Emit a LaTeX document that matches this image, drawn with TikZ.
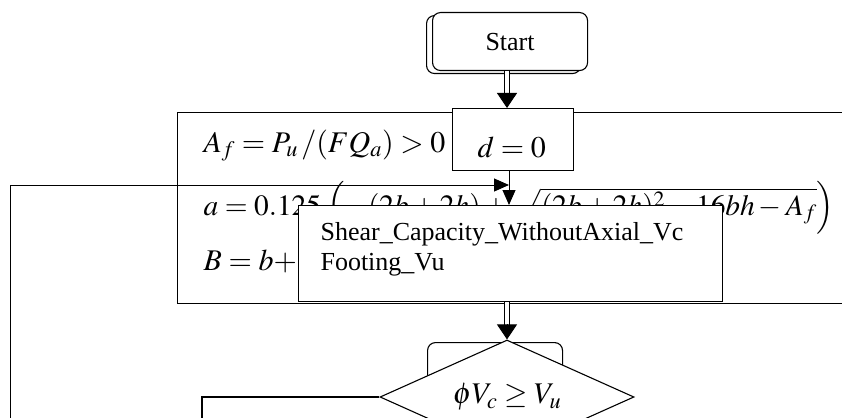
\documentclass[tikz,border=0pt]{standalone}
\usepackage{mathptmx}
\usepackage{fontspec}
\setmainfont{Liberation Serif}
\usetikzlibrary{arrows.meta,shapes.geometric,calc}
\begin{document}
\begin{tikzpicture}[x=1pt,y=-1pt, line width=1.1pt,
  box/.style={draw, fill=white, inner sep=0pt, anchor=north west},
  txt/.style={inner sep=0pt, anchor=base west, font=\fontsize{26}{30}\selectfont},
  mtxt/.style={inner sep=0pt, anchor=base west, font=\fontsize{30}{34}\selectfont},
  dbl/.style={double, double distance=3.5pt, line width=0.9pt},
  bigtip/.style={-{Triangle[width=20pt,length=15pt]}, line width=0.9pt},
  smalltip/.style={-{Triangle[width=13pt,length=15pt]}, line width=1pt}]
\useasboundingbox (0,0) rectangle (842,417);
\clip (0,0) rectangle (842,417);
\coordinate (axis) at (507,0);
\coordinate (join) at (509,185);
% Start
\node[box, rounded corners=8pt, minimum width=154pt, minimum height=58pt] (startback) at (426,15) {};
\node[box, rounded corners=8pt, minimum width=155pt, minimum height=58pt, font=\fontsize{26}{30}\selectfont] (start) at (432,12) {Start};
% formula box
\node[draw, inner sep=0pt, anchor=north west, minimum width=720pt, minimum height=191pt] (fbox) at (177,112) {};
\node[mtxt] (l1) at (203,152) {$A_f = P_u\,/(FQ_a) > 0$};
\node[mtxt, font=\fontsize{29.4}{34}\selectfont] (l2) at (203,215) {$a = 0.125\,\left(-(2b+2h)+\sqrt{(2b+2h)^2-16bh-A_f}\right)$};
\node[mtxt] (l3) at (203,270) {$B = b +$};
% d = 0
\node[box, minimum width=121pt, minimum height=62pt] (dzero) at (452,108) {};
\node[mtxt] (dtext) at (477,157) {$d = 0$};
\draw[dbl, shorten >=14pt] (start.south -| axis) -- (dzero.north -| axis);
\draw[bigtip] ($(dzero.north -| axis)+(0,-15)$) -- (dzero.north -| axis);
% loop 1
\coordinate (loopa) at (10,440);
\coordinate (loopb) at (10,185);
\draw[smalltip] (loopa) -- (loopb) -- (join);
% shear box
\node[box, minimum width=424pt, minimum height=96pt] (shear) at (298,205) {};
\draw[smalltip] (join |- dzero.south) -- (join |- shear.north);
\node[txt] (s1) at (320,240) {Shear\_Capacity\_WithoutAxial\_Vc};
\node[txt] (s2) at (320,270) {Footing\_Vu};
% decision
\node[draw, fill=white, rounded corners=8pt, inner sep=0pt, anchor=north west, minimum width=135pt, minimum height=120pt] (decback) at (427,342) {};
\node[draw, fill=white, diamond, aspect=2.23, inner sep=0pt, minimum width=254pt, minimum height=114pt, font=\fontsize{30}{34}\selectfont] (dec) at (507,397) {$\phi V_c \geq V_u$};
\draw[dbl, shorten >=14pt] (axis |- shear.south) -- (axis |- dec.north);
\draw[bigtip] ($(axis |- dec.north)+(0,-15)$) -- (axis |- dec.north);
% loop 2
\coordinate (loopc) at (202,440);
\draw (loopc) -- (loopc |- dec.west) -- (dec.west);
\end{tikzpicture}
\end{document}
